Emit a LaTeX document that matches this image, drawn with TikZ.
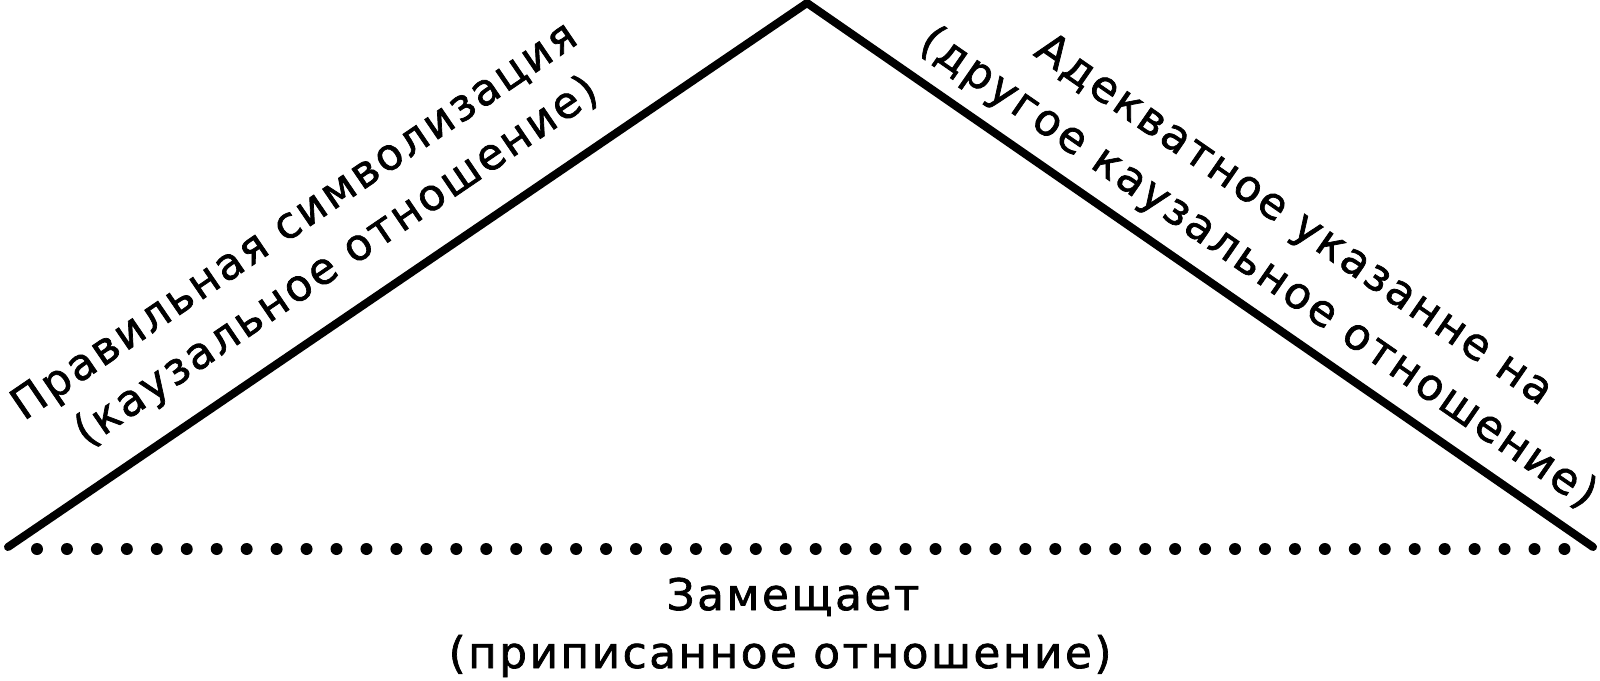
\documentclass[tikz,border=0pt]{standalone}
\usepackage{fontspec}
\newfontfamily\lab{DejaVu Sans}[LetterSpace=6,FakeBold=1.6]
\begin{document}
\begin{tikzpicture}[
  edge/.style={line width=0.08cm, line join=round, line cap=round},
  dotbase/.style={line width=0.12cm, line cap=round, dash pattern=on 0pt off 0.2995cm},
  lbl/.style={inner sep=0pt, anchor=base, font=\lab\fontsize{12.4pt}{14pt}\selectfont}
]
\useasboundingbox (0,0) rectangle (16,6.8);
\coordinate (L) at (0.08,1.33);
\coordinate (A) at (8.07,6.77);
\coordinate (R) at (15.93,1.33);
\coordinate (DL) at (0.37,1.31);
\coordinate (DR) at (15.65,1.31);
\draw[edge] (L) -- (A) -- (R);
\draw[dotbase] (DL) -- (DR);
\node[lbl, rotate=34.25] (l1) at (3.018,4.481) {Правильная символизация};
\node[lbl, rotate=34.25] (l2) at (3.439,4.076) {(каузальное отношение)};
\node[lbl, rotate=-34.68] (r1) at (12.866,4.495) {Адекватное указанне на};
\node[lbl, rotate=-34.68] (r2) at (12.509,4.014) {(другое каузальное отношение)};
\node[lbl] (b1) at (7.93,0.70) {Замещает};
\node[lbl] (b2) at (7.80,0.12) {(приписанное отношение)};
\end{tikzpicture}
\end{document}
